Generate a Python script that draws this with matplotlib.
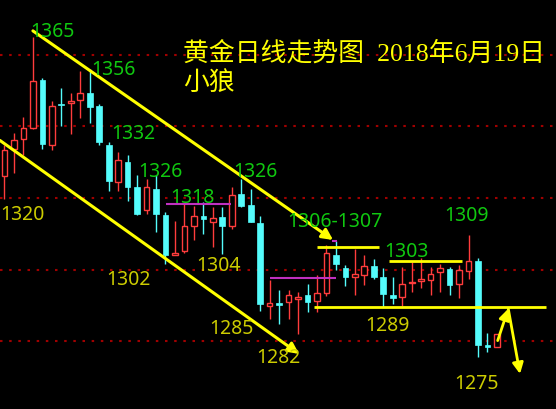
import matplotlib
matplotlib.use("Agg")
import matplotlib.pyplot as plt
from matplotlib.patches import Rectangle

# daily gold candles
opens = [1326.3, 1333.7, 1336.5, 1339.5, 1353.0, 1334.9, 1346.3, 1346.5, 1347.4, 1349.4,
         1345.8, 1334.9, 1324.6, 1330.2, 1323.0, 1316.8, 1322.6, 1315.3, 1304.0, 1305.1,
         1312.3, 1315.0, 1313.4, 1314.7, 1312.3, 1321.2, 1318.0, 1313.1, 1290.0, 1290.6,
         1290.9, 1291.8, 1292.8, 1291.4, 1293.5, 1304.1, 1300.6, 1298.1, 1298.5, 1301.0,
         1297.9, 1292.9, 1292.3, 1296.2, 1296.8, 1297.2, 1299.3, 1300.2, 1295.9, 1299.5,
         1302.4, 1278.8, 1278.5]
highs = [1334.7, 1338.2, 1342.6, 1364.9, 1353.5, 1347.2, 1350.7, 1349.4, 1355.6, 1356.0,
         1346.3, 1335.8, 1332.8, 1331.9, 1326.5, 1325.4, 1326.5, 1316.0, 1313.7, 1318.4,
         1317.7, 1319.0, 1317.6, 1317.6, 1323.0, 1325.4, 1322.6, 1315.1, 1297.0, 1294.2,
         1294.2, 1293.7, 1296.0, 1298.4, 1306.9, 1307.9, 1301.2, 1305.8, 1304.1, 1303.0,
         1300.5, 1297.9, 1300.7, 1302.1, 1303.2, 1300.7, 1301.6, 1300.7, 1301.2, 1309.7,
         1303.2, 1282.3, 1282.0]
lows = [1319.8, 1327.0, 1331.9, 1339.3, 1333.7, 1333.5, 1340.1, 1337.9, 1342.3, 1341.0,
        1334.7, 1322.1, 1322.1, 1319.3, 1315.3, 1315.6, 1310.5, 1301.6, 1304.0, 1304.7,
        1308.4, 1310.0, 1306.3, 1304.4, 1311.4, 1317.6, 1313.3, 1288.6, 1286.3, 1284.9,
        1286.3, 1282.1, 1288.1, 1288.1, 1292.6, 1299.8, 1295.4, 1292.8, 1295.8, 1297.4,
        1289.5, 1290.4, 1290.0, 1293.9, 1294.8, 1293.0, 1293.9, 1293.0, 1292.1, 1297.4,
        1275.6, 1277.0, 1278.5]
closes = [1333.3, 1336.3, 1339.5, 1352.8, 1335.1, 1345.7, 1345.9, 1347.2, 1349.4, 1345.4,
          1335.6, 1324.9, 1330.5, 1323.0, 1315.6, 1323.0, 1315.6, 1304.0, 1304.6, 1312.3,
          1315.1, 1314.2, 1314.4, 1312.3, 1321.0, 1317.9, 1313.3, 1290.4, 1290.6, 1290.2,
          1293.0, 1292.5, 1291.1, 1293.4, 1304.6, 1301.6, 1297.9, 1298.8, 1301.0, 1297.9,
          1293.1, 1292.1, 1296.0, 1296.5, 1297.1, 1298.8, 1300.6, 1295.8, 1299.8, 1302.4,
          1279.1, 1278.4, 1282.0]

grid_levels = [1280, 1300, 1320, 1340, 1360]

# annotations (candle index, price)
trend_upper = [(3.0, 1366.7), (34.7, 1308.3)]
trend_lower = [(-0.48, 1336.1), (31.1, 1276.5)]
yellow_levels = [(1306.3, 32.97, 39.58), (1302.4, 40.57, 48.31), (1289.5, 32.71, 57.18)]
purple_levels = [(1318.4, 17.05, 23.92), (1297.8, 28.04, 35.0), (1307.9, 34.55, 35.08)]
bounce_arrow = [(52.08, 1280.2), (53.2, 1289.1)]
drop_arrow = [(53.2, 1289.1), (54.44, 1270.9)]

green_labels = [("1365", 5.02, 1365.3), ("1356", 11.46, 1354.7), ("1332", 13.57, 1336.8),
                ("1326", 16.42, 1326.2), ("1326", 26.45, 1326.2), ("1318", 19.9, 1318.9),
                ("1306-1307", 34.9, 1312.2), ("1303", 42.4, 1303.9), ("1309", 48.84, 1313.9)]
yellow_labels = [("1320", 1.95, 1314.2), ("1302", 13.04, 1296.0), ("1304", 22.55, 1299.9),
                 ("1285", 24.02, 1282.3), ("1282", 28.88, 1274.2), ("1289", 40.39, 1283.2),
                 ("1275", 49.89, 1267.0)]

title = "黄金日线走势图  2018年6月19日"
author = "小狼"

UP = "#ff3c3c"
DOWN = "#54fcfc"
YELLOW = "#ffff00"


def draw_candles(ax, width=0.6):
    for i, (o, h, l, c) in enumerate(zip(opens, highs, lows, closes)):
        up = c >= o
        color = UP if up else DOWN
        ax.vlines(i, l, h, color=color, lw=1.0, zorder=2)
        bottom = min(o, c)
        height = max(abs(c - o), 0.5)
        if up:
            rect = Rectangle((i - width / 2, bottom), width, height,
                             facecolor="black", edgecolor=color, lw=1.0, zorder=3)
        else:
            rect = Rectangle((i - width / 2, bottom), width, height,
                             facecolor=color, edgecolor=color, lw=0.5, zorder=3)
        ax.add_patch(rect)


def arrow(ax, start, end, lw=2.2):
    ax.annotate("", xy=end, xytext=start,
                arrowprops=dict(arrowstyle="-|>", color=YELLOW, lw=lw,
                                mutation_scale=16, shrinkA=0, shrinkB=0),
                zorder=5)


fig = plt.figure(figsize=(5.56, 4.10), dpi=100, facecolor="black")
ax = fig.add_axes([0, 0, 1, 1])
ax.set_facecolor("black")
ax.set_xlim(-0.475, 58.24)
ax.set_ylim(1261.1, 1375.6)
ax.axis("off")

for level in grid_levels:
    ax.axhline(level, color="#a00000", lw=1.5, ls=(0, (1.2, 3.2)), zorder=1)

draw_candles(ax)

for price, x0, x1 in purple_levels:
    ax.hlines(price, x0, x1, color="#c030c0", lw=1.5, zorder=4)
for price, x0, x1 in yellow_levels:
    ax.hlines(price, x0, x1, color=YELLOW, lw=2.0, zorder=4)

arrow(ax, *trend_upper)
arrow(ax, *trend_lower)
arrow(ax, *bounce_arrow, lw=2.0)
arrow(ax, *drop_arrow, lw=2.0)

for txt, x, y in green_labels:
    ax.text(x, y, txt, color="#10c810", fontsize=14, family="Noto Sans",
            ha="center", va="baseline", zorder=6)
for txt, x, y in yellow_labels:
    ax.text(x, y, txt, color="#cccc00", fontsize=14, family="Noto Sans",
            ha="center", va="baseline", zorder=6)

fig.text(183 / 556, 1 - 60.5 / 410, title, color=YELLOW, fontsize=18.6,
         family=["Liberation Serif", "Noto Sans CJK SC"], ha="left", va="baseline")
fig.text(183 / 556, 1 - 90 / 410, author, color=YELLOW, fontsize=18.6,
         family=["Noto Sans CJK SC"], ha="left", va="baseline")

fig.savefig("out.png", dpi=100, facecolor="black")
